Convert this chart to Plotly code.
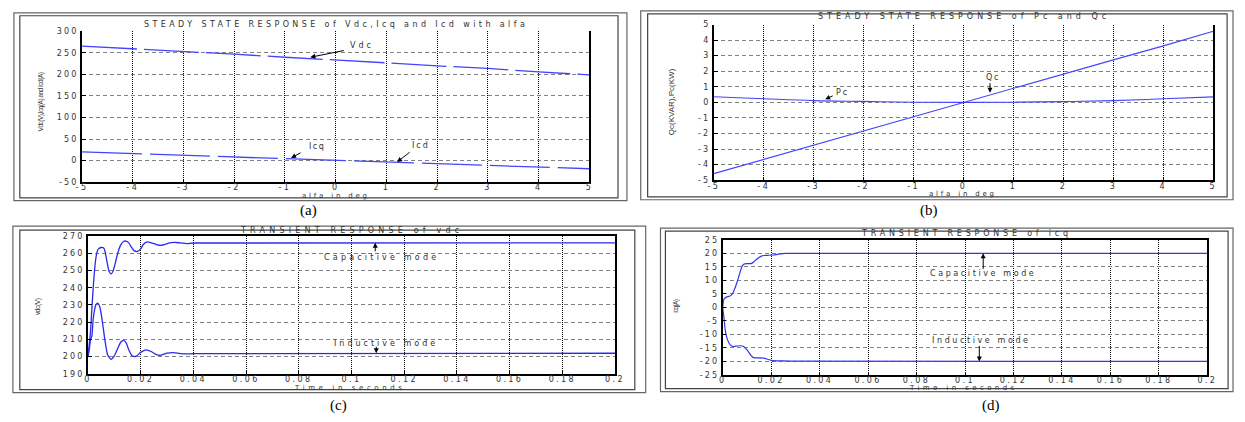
import plotly.graph_objects as go

W, H = 1245, 422

# ---------------- data ----------------
alfa_deg = [-5, -4, -3, -2, -1, 0, 1, 2, 3, 4, 5]
vdc_ss = [266, 260, 254, 247, 240, 234, 227, 220, 214, 206, 199]
icq_ss = [20, 16, 13, 9, 5, 1, -3, -7, -11, -15, -19]
pc_ss = [0.36, 0.23, 0.11, 0.06, 0.01, 0.0, 0.01, 0.05, 0.11, 0.23, 0.35]
qc_ss = [-4.58, -3.66, -2.75, -1.85, -0.93, 0.0, 0.92, 1.83, 2.73, 3.63, 4.57]

t_vdc_cap = [0, 0.0005, 0.001, 0.0015, 0.002, 0.0025, 0.003, 0.0035, 0.004, 0.005, 0.006,
             0.0065, 0.007, 0.0075, 0.008, 0.0088, 0.0095, 0.0105, 0.0115, 0.0125, 0.0135,
             0.0145, 0.0155, 0.0165, 0.0175, 0.0188, 0.020, 0.021, 0.0225, 0.024, 0.026,
             0.0275, 0.029, 0.031, 0.0325, 0.035, 0.0375, 0.040, 0.2]
vdc_cap = [200, 207, 215, 228, 240, 250, 257, 261, 262.5, 263.3, 263,
           261, 257, 253, 249.5, 248, 249.5, 255, 261, 265, 266.8,
           267, 266, 263.5, 261.5, 261, 262.5, 265, 266.5, 266, 265,
           264.5, 265, 266, 266.3, 266, 265.6, 265.9, 266]

t_vdc_ind = [0, 0.0005, 0.001, 0.0015, 0.002, 0.0025, 0.003, 0.0037, 0.0045, 0.0055, 0.0065,
             0.0075, 0.0088, 0.0100, 0.0115, 0.0125, 0.0135, 0.0145, 0.0155, 0.0165, 0.0175,
             0.0185, 0.020, 0.022, 0.024, 0.026, 0.0275, 0.030, 0.0325, 0.035, 0.0375,
             0.040, 0.2]
vdc_ind = [200, 204, 210, 212, 222, 227, 230, 231, 229, 220, 209,
           201, 198.5, 200.5, 205.5, 208.5, 209.5, 208, 204, 201, 200,
           200.5, 202.5, 204, 203, 201.2, 200.8, 202, 202.4, 201.8, 201.6,
           201.8, 202]

t_icq_cap = [0, 0.0005, 0.0015, 0.003, 0.004, 0.005, 0.006, 0.007, 0.008, 0.009, 0.010,
             0.011, 0.012, 0.013, 0.014, 0.015, 0.016, 0.017, 0.019, 0.021, 0.023,
             0.026, 0.2]
icq_cap = [0, 3, 3.8, 4.2, 5, 7, 9.5, 12.5, 15.3, 16.1, 16.2,
           16.2, 16.3, 17, 17.8, 18.5, 19, 19.2, 19.3, 19.4, 19.7,
           20, 20]

t_icq_ind = [0, 0.0005, 0.001, 0.0016, 0.0025, 0.0035, 0.0045, 0.006, 0.0075, 0.0085, 0.0095,
             0.0105, 0.0115, 0.0125, 0.0135, 0.015, 0.017, 0.0185, 0.020, 0.022, 0.025,
             0.030, 0.2]
icq_ind = [0, -3.6, -8, -10.8, -13, -14.2, -14.5, -14.3, -14.2, -14.4, -15.2,
           -16.3, -17.6, -18.5, -18.7, -18.7, -18.8, -19.2, -19.6, -19.8, -19.8,
           -19.9, -20]

# tick values / labels
alfa_ticks = [-5, -4, -3, -2, -1, 0, 1, 2, 3, 4, 5]
alfa_ticktext = ["-5", "-4", "-3", "-2", "-1", "0", "1", "2", "3", "4", "5"]
a_y_ticks = [-50, 0, 50, 100, 150, 200, 250, 300]
a_y_ticktext = ["-50", "0", "50", "100", "150", "200", "250", "300"]
b_y_ticks = [-5, -4, -3, -2, -1, 0, 1, 2, 3, 4, 5]
b_y_ticktext = ["-5", "-4", "-3", "-2", "-1", "0", "1", "2", "3", "4", "5"]
time_ticks = [0, 0.02, 0.04, 0.06, 0.08, 0.1, 0.12, 0.14, 0.16, 0.18, 0.2]
time_ticktext = ["0", "0.02", "0.04", "0.06", "0.08", "0.1", "0.12", "0.14", "0.16", "0.18", "0.2"]
vdc_ticks = [190, 200, 210, 220, 230, 240, 250, 260, 270]
vdc_ticktext = ["190", "200", "210", "220", "230", "240", "250", "260", "270"]
icq_ticks = [-25, -20, -15, -10, -5, 0, 5, 10, 15, 20, 25]
icq_ticktext = ["-25", "-20", "-15", "-10", "-5", "0", "5", "10", "15", "20", "25"]

# ---------------- helpers ----------------
def px_x(p):
    return p / W

def px_y(p):
    return 1 - p / H

def ls(s, px):
    return f'<span style="letter-spacing:{px}px">{s}</span>'

BLUE = "#4444ff"
TICKFONT = dict(family="DejaVu Sans", size=8, color="#333333")

fig = go.Figure()

# (a)
fig.add_trace(go.Scatter(x=alfa_deg, y=vdc_ss, mode="lines", xaxis="x", yaxis="y",
                         line=dict(color=BLUE, width=1.3, dash="55px,7px"), showlegend=False))
fig.add_trace(go.Scatter(x=alfa_deg, y=icq_ss, mode="lines", xaxis="x", yaxis="y",
                         line=dict(color=BLUE, width=1.3, dash="60px,8px"), showlegend=False))
# (b)
fig.add_trace(go.Scatter(x=alfa_deg, y=pc_ss, mode="lines", xaxis="x2", yaxis="y2",
                         line=dict(color=BLUE, width=1.1, shape="spline"), showlegend=False))
fig.add_trace(go.Scatter(x=alfa_deg, y=qc_ss, mode="lines", xaxis="x2", yaxis="y2",
                         line=dict(color=BLUE, width=1.1), showlegend=False))
# (c)
fig.add_trace(go.Scatter(x=t_vdc_cap, y=vdc_cap, mode="lines", xaxis="x3", yaxis="y3",
                         line=dict(color="#2a2aee", width=1.3, shape="spline", smoothing=0.6),
                         showlegend=False))
fig.add_trace(go.Scatter(x=t_vdc_ind, y=vdc_ind, mode="lines", xaxis="x3", yaxis="y3",
                         line=dict(color="#2a2aee", width=1.3, shape="spline", smoothing=0.6),
                         showlegend=False))
# (d)
fig.add_trace(go.Scatter(x=t_icq_cap, y=icq_cap, mode="lines", xaxis="x4", yaxis="y4",
                         line=dict(color="#3535f0", width=1.2, shape="spline", smoothing=0.5),
                         showlegend=False))
fig.add_trace(go.Scatter(x=t_icq_ind, y=icq_ind, mode="lines", xaxis="x4", yaxis="y4",
                         line=dict(color="#3535f0", width=1.2, shape="spline", smoothing=0.5),
                         showlegend=False))


def xax(dom, rng, tv, tt, anchor, mirror):
    return dict(domain=[px_x(dom[0]), px_x(dom[1])], range=rng, anchor=anchor,
                tickmode="array", tickvals=tv, ticktext=[ls(t, 2.4) for t in tt],
                ticks="inside", ticklen=3, tickcolor="#000", tickfont=TICKFONT,
                ticklabelstandoff=-3,
                showgrid=True, gridcolor="#000000", griddash="1px,1px", gridwidth=1.3,
                zeroline=False, showline=True, linecolor="#000000", linewidth=1.5,
                mirror=mirror, fixedrange=True)


def yax(dom, rng, tv, tt, anchor):
    return dict(domain=[px_y(dom[1]), px_y(dom[0])], range=rng, anchor=anchor,
                tickmode="array", tickvals=tv, ticktext=[ls(t, 2.2) for t in tt],
                ticks="inside", ticklen=4, tickcolor="#000", tickfont=TICKFONT,
                showgrid=True, gridcolor="#808080", griddash="4px,3px", gridwidth=1,
                zeroline=False, showline=True, linecolor="#000000", linewidth=1.5,
                mirror=True, fixedrange=True)


A = dict(x=(77, 591), y=(28, 182))
B = dict(x=(717, 1223), y=(21, 180))
C = dict(x=(83, 617), y=(237, 378))
D = dict(x=(726, 1217), y=(241, 379))

layout = dict(
    width=W, height=H, margin=dict(l=0, r=0, t=0, b=0),
    paper_bgcolor="white", plot_bgcolor="white", showlegend=False,
    xaxis=xax(A["x"], [-5, 5], alfa_ticks, alfa_ticktext, "y", False),
    yaxis=yax(A["y"], [-50, 300], a_y_ticks, a_y_ticktext, "x"),
    xaxis2=xax(B["x"], [-5, 5], alfa_ticks, alfa_ticktext, "y2", False),
    yaxis2=yax(B["y"], [-5, 5], b_y_ticks, b_y_ticktext, "x2"),
    xaxis3=xax(C["x"], [0, 0.2], time_ticks, time_ticktext, "y3", True),
    yaxis3=yax(C["y"], [190, 270], vdc_ticks, vdc_ticktext, "x3"),
    xaxis4=xax(D["x"], [0, 0.2], time_ticks, time_ticktext, "y4", True),
    yaxis4=yax(D["y"], [-25, 25], icq_ticks, icq_ticktext, "x4"),
)
fig.update_layout(**layout)

# ---------------- frames ----------------
frames = [
    ((8, 9, 629, 201), (14, 12, 620, 198)),
    ((643, 7, 1243, 200), (650, 10, 1237, 197)),
    ((7, 227, 648, 397), (14, 231, 637, 394)),
    ((663, 229, 1243, 396), (668, 232, 1238, 393)),
]
shapes = []
for outer, inner in frames:
    for (x0, y0, x1, y1), c in ((outer, "#666666"), (inner, "#444444")):
        shapes.append(dict(type="rect", xref="paper", yref="paper",
                           x0=px_x(x0), x1=px_x(x1), y0=px_y(y1), y1=px_y(y0),
                           line=dict(color=c, width=1.2), fillcolor="rgba(0,0,0,0)",
                           layer="below"))
fig.update_layout(shapes=shapes)

# ---------------- text annotations ----------------
ann = []


def txt(s, x, y, spacing, size=8, family="DejaVu Sans", angle=0, color="#333333"):
    ann.append(dict(text=ls(s, spacing) if spacing else s, x=px_x(x), y=px_y(y),
                    xref="paper", yref="paper", showarrow=False,
                    xanchor="center", yanchor="middle", textangle=angle,
                    font=dict(family=family, size=size, color=color)))


def arrow(xref, yref, x, y, ax, ay):
    ann.append(dict(text="", x=x, y=y, xref=xref, yref=yref, ax=ax, ay=ay,
                    showarrow=True, arrowhead=2, arrowsize=1, arrowwidth=1,
                    arrowcolor="#000000"))


# titles
txt("STEADY STATE RESPONSE of Vdc,Icq and Icd with alfa", 334, 21, 3.4)
txt("STEADY STATE RESPONSE of Pc and Qc", 970, 13, 4.0)
txt("TRANSIENT RESPONSE of vdc", 350, 231, 4.2)
txt("TRANSIENT RESPONSE of icq", 973, 235, 3.8)

# axis titles
txt("alfa in deg", 334, 196, 2.8, size=7)
txt("alfa in deg", 969, 194, 2.8, size=7)
txt("Time in seconds", 348, 392, 3.6, size=7)
txt("Time in seconds", 970, 392, 3.4, size=7)
txt("Vdc(V),Icq(A) and Icd(A)", 35, 100, -0.5, size=6.5, family="Liberation Sans", angle=-90)
txt("Qc(KVAR),Pc(KW)", 675, 100, 0, size=8, family="Liberation Sans", angle=-90)
txt("vdc(V)", 33, 309, -0.4, size=6.5, family="Liberation Sans", angle=-90)
txt("icq(A)", 679, 309, -0.7, size=6.5, family="Liberation Sans", angle=-90)

# curve labels
txt("Vdc", 361, 42, 3.0)
txt("Icq", 315, 146, 1.5)
txt("Icd", 420, 145, 2.0)
txt("Qc", 1000, 75, 1.8)
txt("Pc", 847, 90, 2.0)
txt("Capacitive mode", 380, 259, 3.2)
txt("Inductive mode", 385, 347, 3.0)
txt("Capacitive mode", 990, 275, 2.6)
txt("Inductive mode", 988, 344, 2.6)

# arrows
arrow("x", "y", -0.5, 240, 35, -7)
arrow("x", "y", -0.88, 6, 11, -6)
arrow("x", "y", 1.21, -3.5, 14, -11)
arrow("x2", "y2", 0.53, 0.62, 0, -11)
arrow("x2", "y2", -2.77, 0.2, 9, -4)
arrow("x3", "y3", 0.109, 266, 0, 10)
arrow("x3", "y3", 0.1094, 202, 0, -8)
arrow("x4", "y4", 0.1075, 20, 0, 17)
arrow("x4", "y4", 0.1059, -20, 0, -17)

# panel labels
txt("(a)", 306, 211, 0, size=15, family="Liberation Serif", color="#000000")
txt("(b)", 935, 211, 0, size=15, family="Liberation Serif", color="#000000")
txt("(c)", 337, 410, 0, size=15, family="Liberation Serif", color="#000000")
txt("(d)", 998, 410, 0, size=15, family="Liberation Serif", color="#000000")

fig.update_layout(annotations=ann)

fig.write_html("out.html", config={"displayModeBar": False},
               post_script="document.body.style.margin='0px';")
